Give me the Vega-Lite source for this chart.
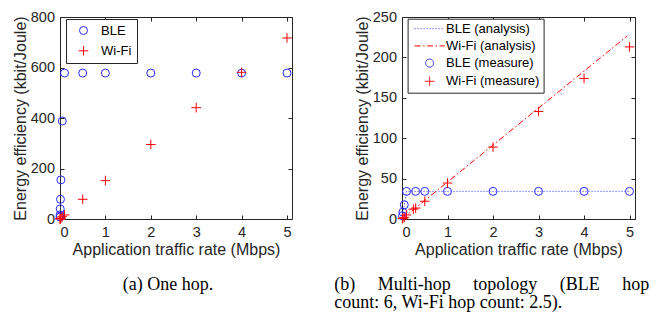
{
  "$schema": "https://vega.github.io/schema/vega-lite/v6.json",
  "padding": {"left": 11, "top": 8, "right": 5, "bottom": 2},
  "background": "white",
  "datasets": {
    "onehop": [
      {"rate": 0.001, "eff": 8, "series": "BLE"},
      {"rate": 0.002, "eff": 16, "series": "BLE"},
      {"rate": 0.005, "eff": 40, "series": "BLE"},
      {"rate": 0.01, "eff": 78, "series": "BLE"},
      {"rate": 0.02, "eff": 155, "series": "BLE"},
      {"rate": 0.05, "eff": 388, "series": "BLE"},
      {"rate": 0.1, "eff": 578, "series": "BLE"},
      {"rate": 0.5, "eff": 578, "series": "BLE"},
      {"rate": 1, "eff": 578, "series": "BLE"},
      {"rate": 2, "eff": 578, "series": "BLE"},
      {"rate": 3, "eff": 578, "series": "BLE"},
      {"rate": 4, "eff": 578, "series": "BLE"},
      {"rate": 5, "eff": 578, "series": "BLE"},
      {"rate": 0.001, "eff": 0.5, "series": "Wi-Fi"},
      {"rate": 0.005, "eff": 1, "series": "Wi-Fi"},
      {"rate": 0.01, "eff": 2, "series": "Wi-Fi"},
      {"rate": 0.02, "eff": 3, "series": "Wi-Fi"},
      {"rate": 0.05, "eff": 9, "series": "Wi-Fi"},
      {"rate": 0.1, "eff": 16, "series": "Wi-Fi"},
      {"rate": 0.5, "eff": 78, "series": "Wi-Fi"},
      {"rate": 1, "eff": 152, "series": "Wi-Fi"},
      {"rate": 2, "eff": 295, "series": "Wi-Fi"},
      {"rate": 3, "eff": 441, "series": "Wi-Fi"},
      {"rate": 4, "eff": 581, "series": "Wi-Fi"},
      {"rate": 5, "eff": 717, "series": "Wi-Fi"}
    ],
    "multi_analysis": [
      {"rate": 0, "eff": 0, "series": "BLE (analysis)"},
      {"rate": 0.1, "eff": 34.2, "series": "BLE (analysis)"},
      {"rate": 5, "eff": 34.2, "series": "BLE (analysis)"},
      {"rate": 0, "eff": 0, "series": "Wi-Fi (analysis)"},
      {"rate": 4.95, "eff": 226.5, "series": "Wi-Fi (analysis)"}
    ],
    "multi_measure": [
      {"rate": 0.01, "eff": 4, "series": "BLE (measure)"},
      {"rate": 0.02, "eff": 8.5, "series": "BLE (measure)"},
      {"rate": 0.05, "eff": 17.5, "series": "BLE (measure)"},
      {"rate": 0.1, "eff": 34.2, "series": "BLE (measure)"},
      {"rate": 0.3, "eff": 34.2, "series": "BLE (measure)"},
      {"rate": 0.5, "eff": 34.2, "series": "BLE (measure)"},
      {"rate": 1, "eff": 34.2, "series": "BLE (measure)"},
      {"rate": 2, "eff": 34.2, "series": "BLE (measure)"},
      {"rate": 3, "eff": 34.2, "series": "BLE (measure)"},
      {"rate": 4, "eff": 34.2, "series": "BLE (measure)"},
      {"rate": 5, "eff": 34.2, "series": "BLE (measure)"},
      {"rate": 0.01, "eff": 0.5, "series": "Wi-Fi (measure)"},
      {"rate": 0.02, "eff": 1, "series": "Wi-Fi (measure)"},
      {"rate": 0.05, "eff": 2, "series": "Wi-Fi (measure)"},
      {"rate": 0.1, "eff": 5, "series": "Wi-Fi (measure)"},
      {"rate": 0.25, "eff": 12.2, "series": "Wi-Fi (measure)"},
      {"rate": 0.3, "eff": 13.5, "series": "Wi-Fi (measure)"},
      {"rate": 0.5, "eff": 22, "series": "Wi-Fi (measure)"},
      {"rate": 1, "eff": 44.5, "series": "Wi-Fi (measure)"},
      {"rate": 2, "eff": 89, "series": "Wi-Fi (measure)"},
      {"rate": 3, "eff": 133, "series": "Wi-Fi (measure)"},
      {"rate": 4, "eff": 174, "series": "Wi-Fi (measure)"},
      {"rate": 5, "eff": 213, "series": "Wi-Fi (measure)"}
    ]
  },
  "config": {
    "font": "Liberation Sans",
    "view": {"stroke": "#262626", "strokeWidth": 1},
    "axis": {
      "grid": false,
      "domainColor": "#262626",
      "tickColor": "#262626",
      "labelColor": "#262626",
      "titleColor": "#262626",
      "labelFontSize": 14.5,
      "titleFontSize": 16,
      "titleFontWeight": "normal",
      "tickSize": -4,
      "tickWidth": 1,
      "domainWidth": 1,
      "labelFont": "Liberation Sans",
      "titleFont": "Liberation Sans"
    },
    "axisX": {"labelPadding": 10, "titlePadding": 3, "labelDx": 4},
    "axisY": {"labelPadding": 9.5, "titlePadding": 2},
    "legend": {
      "orient": "none",
      "strokeColor": "#262626",
      "fillColor": "white",
      "padding": 5,
      "labelFontSize": 13,
      "labelColor": "black",
      "labelFont": "Liberation Sans",
      "symbolSize": 64,
      "symbolStrokeWidth": 1,
      "rowPadding": 4.6
    },
    "title": {
      "font": "Liberation Serif",
      "fontSize": 18,
      "fontWeight": "normal",
      "color": "black",
      "orient": "bottom"
    }
  },
  "spacing": 38,
  "resolve": {
    "scale": {"color": "independent", "shape": "independent", "strokeDash": "independent", "stroke": "independent"},
    "legend": {"color": "independent", "shape": "independent", "strokeDash": "independent", "stroke": "independent"}
  },
  "hconcat": [
    {
      "width": 232,
      "height": 202,
      "title": {"text": "(a) One hop.", "orient": "bottom", "anchor": "middle", "frame": "group", "dx": -8, "offset": 18},
      "data": {"name": "onehop"},
      "layer": [
        {
          "mark": {"type": "point", "filled": false, "size": 64, "strokeWidth": 1, "opacity": 1},
          "encoding": {
            "x": {"field": "rate", "type": "quantitative", "scale": {"domain": [0, 5.11], "nice": false, "zero": false},
                  "axis": {"values": [0, 1, 2, 3, 4, 5], "title": "Application traffic rate (Mbps)"}},
            "y": {"field": "eff", "type": "quantitative", "scale": {"domain": [0, 800], "nice": false},
                  "axis": {"values": [0, 200, 400, 600, 800], "title": "Energy efficiency (kbit/Joule)"}},
            "color": {"field": "series", "type": "nominal",
                      "scale": {"domain": ["BLE", "Wi-Fi"], "range": ["#2b2bff", "#ff0000"]},
                      "legend": {"title": null, "legendX": 6, "legendY": 2, "symbolOffset": 6, "labelOffset": 11, "rowPadding": 5.3}},
            "shape": {"field": "series", "type": "nominal",
                      "scale": {"domain": ["BLE", "Wi-Fi"], "range": ["circle", "M-1.2,0L1.2,0M0,-1.2L0,1.2"]},
                      "legend": {"title": null, "legendX": 6, "legendY": 2, "symbolOffset": 6, "labelOffset": 11, "rowPadding": 5.3}}
          }
        },
        {
          "mark": {"type": "point", "opacity": 0},
          "encoding": {
            "x": {"field": "rate", "type": "quantitative", "axis": {"orient": "top", "values": [0, 1, 2, 3, 4, 5], "labels": false, "title": null, "domain": false}},
            "y": {"field": "eff", "type": "quantitative", "axis": {"orient": "right", "values": [0, 200, 400, 600, 800], "labels": false, "title": null, "domain": false}}
          }
        }
      ],
      "resolve": {"axis": {"x": "independent", "y": "independent"}}
    },
    {
      "width": 233,
      "height": 202,
      "title": {"text": ["(b) \u00a0\u00a0\u00a0\u00a0Multi-hop \u00a0\u00a0\u00a0\u00a0topology \u00a0\u00a0\u00a0\u00a0(BLE \u00a0\u00a0\u00a0\u00a0hop", "count: 6, Wi-Fi hop count: 2.5)."], "orient": "bottom", "anchor": "start", "frame": "bounds", "dx": -20, "offset": 18, "lineHeight": 18},
      "layer": [
        {
          "data": {"name": "multi_analysis"},
          "mark": {"type": "line", "strokeWidth": 1},
          "encoding": {
            "x": {"field": "rate", "type": "quantitative", "scale": {"domain": [0, 5.12], "nice": false, "zero": false},
                  "axis": {"values": [0, 1, 2, 3, 4, 5], "title": "Application traffic rate (Mbps)"}},
            "y": {"field": "eff", "type": "quantitative", "scale": {"domain": [0, 250], "nice": false},
                  "axis": {"values": [0, 50, 100, 150, 200, 250], "title": "Energy efficiency (kbit/Joule)"}},
            "stroke": {"field": "series", "type": "nominal",
                      "scale": {"domain": ["BLE (analysis)", "Wi-Fi (analysis)"], "range": ["#2b2bff", "#ff0000"]},
                      "legend": null},
            "strokeDash": {"field": "series", "type": "nominal",
                      "scale": {"domain": ["BLE (analysis)", "Wi-Fi (analysis)"], "range": [[1, 2], [6, 2.5, 1.5, 2.5]]},
                      "legend": null}
          }
        },
        {
          "data": {"name": "multi_measure"},
          "mark": {"type": "point", "filled": false, "size": 64, "strokeWidth": 1, "opacity": 1},
          "encoding": {
            "x": {"field": "rate", "type": "quantitative", "axis": null},
            "y": {"field": "eff", "type": "quantitative", "axis": null},
            "color": {"field": "series", "type": "nominal",
                      "scale": {"domain": ["BLE (analysis)", "Wi-Fi (analysis)", "BLE (measure)", "Wi-Fi (measure)"], "range": ["#2b2bff", "#ff0000", "#2b2bff", "#ff0000"]},
                      "legend": {"title": null, "legendX": 5.6, "legendY": 1.7, "symbolOffset": 12, "labelOffset": 10, "padding": 3.5, "rowPadding": 3.2,
                                 "symbolDash": {"expr": "datum.value == 'BLE (analysis)' ? [1, 2] : datum.value == 'Wi-Fi (analysis)' ? [6, 2.5, 1.5, 2.5] : [1, 0]"}}},
            "shape": {"field": "series", "type": "nominal",
                      "scale": {"domain": ["BLE (analysis)", "Wi-Fi (analysis)", "BLE (measure)", "Wi-Fi (measure)"], "range": ["M-3.75,0L3.75,0", "M-3.75,0L3.75,0", "circle", "M-1.2,0L1.2,0M0,-1.2L0,1.2"]},
                      "legend": {"title": null, "legendX": 5.6, "legendY": 1.7, "symbolOffset": 12, "labelOffset": 10, "padding": 3.5, "rowPadding": 3.2,
                                 "symbolDash": {"expr": "datum.value == 'BLE (analysis)' ? [1, 2] : datum.value == 'Wi-Fi (analysis)' ? [6, 2.5, 1.5, 2.5] : [1, 0]"}}}
          }
        },
        {
          "data": {"name": "multi_measure"},
          "mark": {"type": "point", "opacity": 0},
          "encoding": {
            "x": {"field": "rate", "type": "quantitative", "axis": {"orient": "top", "values": [0, 1, 2, 3, 4, 5], "labels": false, "title": null, "domain": false}},
            "y": {"field": "eff", "type": "quantitative", "axis": {"orient": "right", "values": [0, 50, 100, 150, 200, 250], "labels": false, "title": null, "domain": false}}
          }
        }
      ],
      "resolve": {"axis": {"x": "independent", "y": "independent"}, "scale": {"strokeDash": "independent"}}
    }
  ]
}
